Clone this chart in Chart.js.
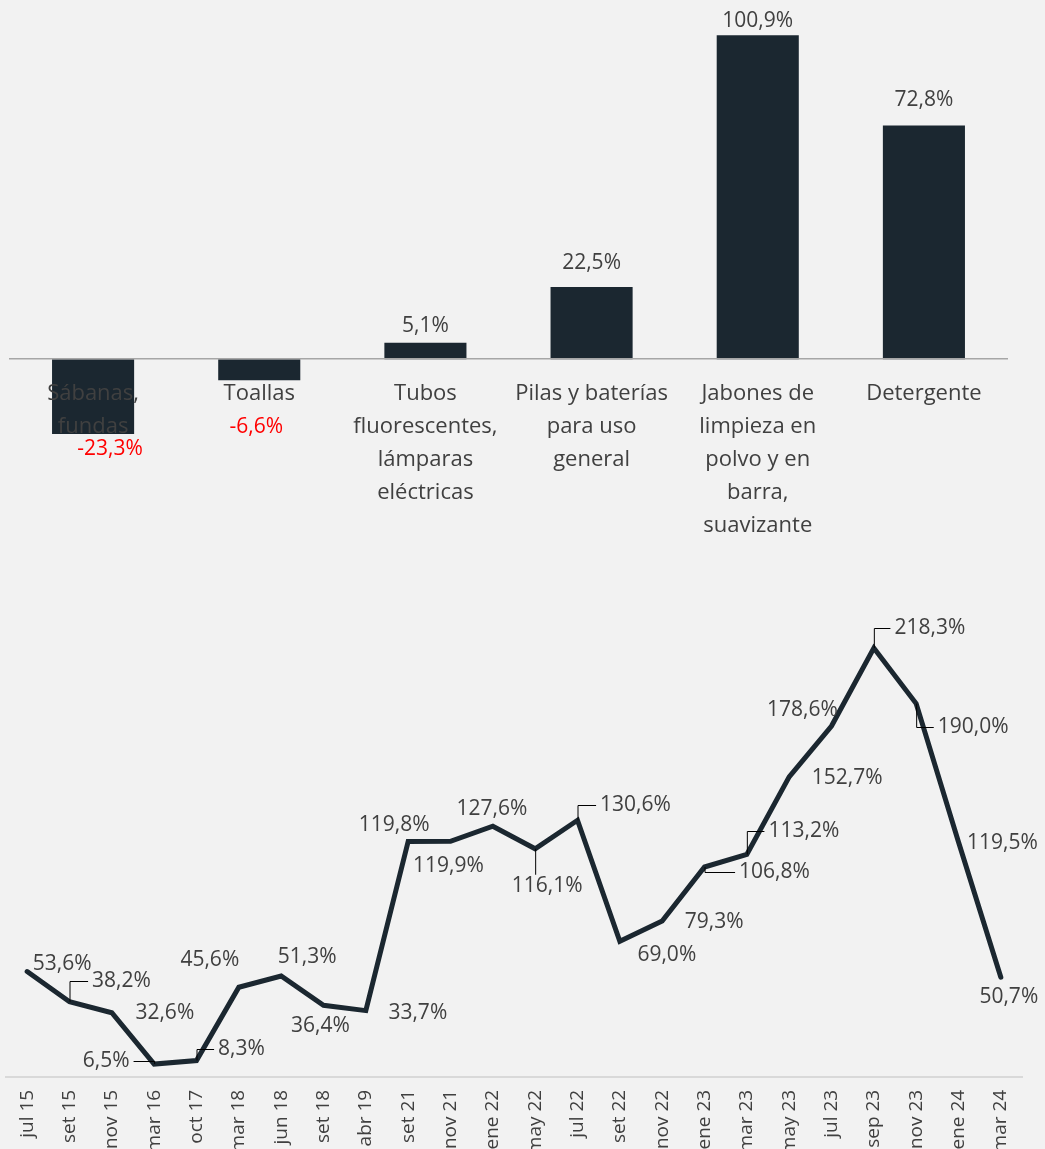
<!DOCTYPE html>
<html><head><meta charset="utf-8">
<script src="https://cdn.jsdelivr.net/npm/chart.js@4.4.1/dist/chart.umd.min.js"></script>
<style>
html,body{margin:0;padding:0;background:#F2F2F2;overflow:hidden;width:1045px;height:1149px;position:relative;}
#c1{position:absolute;left:0;top:0;}
#c2{position:absolute;left:0;top:590px;}
</style></head><body>
<canvas id="c1" width="1045" height="560"></canvas>
<canvas id="c2" width="1045" height="620"></canvas>
<script>
// ---- Bar chart data ----
const barCategories = [
  ["Sábanas,", "fundas"],
  ["Toallas"],
  ["Tubos", "fluorescentes,", "lámparas", "eléctricas"],
  ["Pilas y baterías", "para uso", "general"],
  ["Jabones de", "limpieza en", "polvo y en", "barra,", "suavizante"],
  ["Detergente"]
];
const barValues = [-23.3, -6.6, 5.1, 22.5, 100.9, 72.8];
const barLabelDx = [17, -3, 0, 0, 0, 0];
const barLabelDy = [15, 47, -17, -24, -14, -25];

// ---- Line chart data ----
const lineCategories = ["jul 15","set 15","nov 15","mar 16","oct 17","mar 18","jun 18","set 18","abr 19",
  "set 21","nov 21","ene 22","may 22","jul 22","set 22","nov 22","ene 23","mar 23","may 23","jul 23",
  "sep 23","nov 23","ene 24","mar 24"];
const lineValues = [53.6, 38.2, 32.6, 6.5, 8.3, 45.6, 51.3, 36.4, 33.7, 119.8, 119.9, 127.6, 116.1, 130.6,
  69.0, 79.3, 106.8, 113.2, 152.7, 178.6, 218.3, 190.0, 119.5, 50.7];
const lineLabelDx = [35, 52, 53, -48, 45, -29, 26, -3, 52, -14, -2, -1, 12, 58, 47, 52, 70, 57, 58, -29, 56, 57, 44, 8];
const lineLabelDy = [-8, -21, 0, -3, -11, -27, -19, 21, 2, -16, 25, -17, 37, -15, 14, 1, 5, -23, 1, -16, -20, 23, 1, 20];
const lineLeader = [0,1,0,1,1,0,0,0,0,0,0,0,1,1,0,0,1,1,0,0,1,1,0,0];

const DARK = '#1B2730';
const TEXT = '#404040';
const FONT = '"Open Sans", "DejaVu Sans", sans-serif';

function fmt(v) { return v.toFixed(1).replace('.', ',') + '%'; }

const valueLabels = {
  id: 'valueLabels',
  afterDatasetsDraw(chart, args, opts) {
    const ctx = chart.ctx;
    const meta = chart.getDatasetMeta(0);
    const vals = chart.data.datasets[0].data;
    ctx.save();
    ctx.font = opts.font;
    ctx.textAlign = 'center';
    ctx.textBaseline = 'middle';
    meta.data.forEach((el, i) => {
      const v = vals[i];
      const px = el.x, py = el.y;
      const lx = px + opts.dx[i], ly = py + opts.dy[i];
      const txt = fmt(v);
      ctx.fillStyle = (opts.negColor && v < 0) ? opts.negColor : opts.color;
      ctx.fillText(txt, lx, ly);
      if (opts.leader && opts.leader[i]) {
        const w = ctx.measureText(txt).width;
        ctx.strokeStyle = '#000';
        ctx.lineWidth = 1;
        ctx.beginPath();
        if (px >= lx - w / 2 && px <= lx + w / 2) {
          const edge = ly > py ? ly - 11 : ly + 11;
          ctx.moveTo(px + 0.5, py);
          ctx.lineTo(px + 0.5, edge);
        } else {
          const edge = lx > px ? lx - w / 2 - 4 : lx + w / 2 + 4;
          ctx.moveTo(px + 0.5, py);
          ctx.lineTo(px + 0.5, Math.round(ly) + 0.5);
          ctx.lineTo(edge, Math.round(ly) + 0.5);
        }
        ctx.stroke();
      }
    });
    ctx.restore();
  }
};

new Chart(document.getElementById('c1'), {
  type: 'bar',
  data: {
    labels: barCategories,
    datasets: [{
      data: barValues,
      backgroundColor: DARK,
      borderWidth: 0,
      categoryPercentage: 1,
      barPercentage: 0.494
    }]
  },
  options: {
    responsive: false,
    animation: false,
    devicePixelRatio: 1,
    layout: { padding: { top: 6, left: 10, right: 38, bottom: 104.5 } },
    plugins: {
      legend: { display: false },
      tooltip: { enabled: false },
      valueLabels: {
        font: '21px ' + FONT, color: TEXT, negColor: '#FF0000',
        dx: barLabelDx, dy: barLabelDy
      }
    },
    scales: {
      x: {
        position: { y: 0 },
        grid: { display: true, drawOnChartArea: false, drawTicks: false },
        border: { display: true, color: '#A6A6A6', width: 1.5, z: 1 },
        ticks: {
          z: 1,
          color: TEXT,
          font: { family: FONT, size: 22, lineHeight: 1.5 },
          padding: 18,
          maxRotation: 0, minRotation: 0,
          autoSkip: false
        }
      },
      y: {
        display: false,
        min: -30, max: 110
      }
    }
  },
  plugins: [valueLabels]
});

new Chart(document.getElementById('c2'), {
  type: 'line',
  data: {
    labels: lineCategories,
    datasets: [{
      data: lineValues,
      borderColor: DARK,
      borderWidth: 5,
      pointRadius: 0,
      borderCapStyle: 'round',
      borderJoinStyle: 'miter',
      tension: 0,
      fill: false
    }]
  },
  options: {
    responsive: false,
    animation: false,
    devicePixelRatio: 1,
    layout: { padding: { top: 15.4, left: 6, right: 23, bottom: 0 } },
    plugins: {
      legend: { display: false },
      tooltip: { enabled: false },
      valueLabels: {
        font: '21px ' + FONT, color: TEXT,
        dx: lineLabelDx, dy: lineLabelDy, leader: lineLeader
      }
    },
    scales: {
      x: {
        offset: true,
        grid: { display: true, drawOnChartArea: false, drawTicks: false },
        border: { display: true, color: '#D9D9D9', width: 2 },
        ticks: {
          color: TEXT,
          font: { family: FONT, size: 19 },
          padding: 13,
          minRotation: 90, maxRotation: 90,
          autoSkip: false
        },
        afterFit: s => { s.height = 133.2; }
      },
      y: {
        display: false,
        min: 0, max: 240
      }
    }
  },
  plugins: [valueLabels]
});
</script>
</body></html>
